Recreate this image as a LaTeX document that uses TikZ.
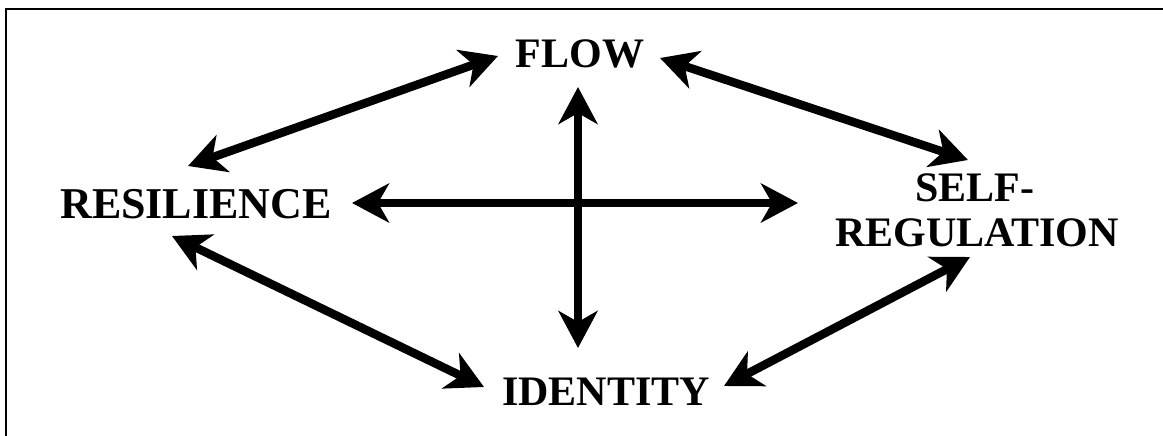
\documentclass[tikz,border=0pt]{standalone}
\usepackage{fontspec}
\setmainfont{Liberation Serif}
\usetikzlibrary{arrows.meta}
\tikzset{
  lbl/.style={font=\fontsize{42}{45}\selectfont\bfseries, inner sep=0pt, anchor=base},
  link/.style={line width=8.5pt, {Stealth[length=37pt,width=39pt,inset=11pt]}-{Stealth[length=37pt,width=39pt,inset=11pt]}},
  frameline/.style={line width=2pt}
}
\begin{document}
\begin{tikzpicture}[x=1pt,y=-1pt]
\useasboundingbox (0,0) rectangle (1163,436);
% frame (top and left edges only)
\coordinate (ftl) at (5.5,9.5);
\coordinate (ftr) at (1163,9.5);
\coordinate (fbl) at (5.5,436);
\draw[frameline] (ftr) -- (ftl) -- (fbl);
% labels
\node[lbl] (flow) at (580,68) {FLOW};
\node[lbl, font=\fontsize{44}{46}\selectfont\bfseries] (res) at (196,218) {RESILIENCE};
\node[lbl] (ident) at (606,405) {IDENTITY};
\node[lbl] (self) at (975,201) {SELF-};
\node[lbl] (reg) at (977,246) {REGULATION};
% arrow ends
\coordinate (fl-l) at (498,56);
\coordinate (fl-r) at (660,58);
\coordinate (fl-b) at (578,87);
\coordinate (re-t) at (188,166);
\coordinate (re-r) at (352,203);
\coordinate (re-b) at (172,236);
\coordinate (id-t) at (578,348);
\coordinate (id-l) at (484,387);
\coordinate (id-r) at (724,386);
\coordinate (se-t) at (968,160);
\coordinate (se-l) at (798,203);
\coordinate (se-b) at (970,257);
% connectors
\draw[link] (re-t) -- (fl-l);
\draw[link] (fl-r) -- (se-t);
\draw[link] (re-b) -- (id-l);
\draw[link] (id-r) -- (se-b);
\draw[link] (re-r) -- (se-l);
\draw[link] (fl-b) -- (id-t);
\end{tikzpicture}
\end{document}
